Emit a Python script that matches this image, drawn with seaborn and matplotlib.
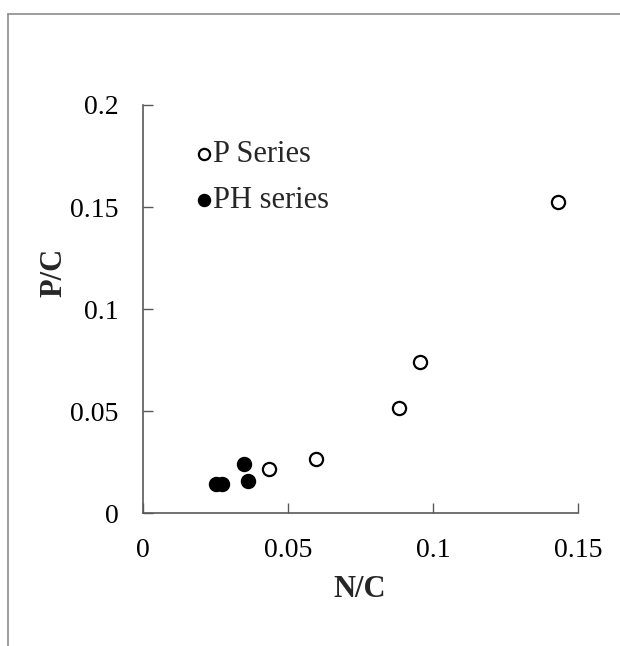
import matplotlib
matplotlib.use("Agg")
import matplotlib.pyplot as plt
import seaborn as sns
import pandas as pd
from matplotlib.lines import Line2D

# datos
p_nc = [0.0434, 0.0594, 0.0882, 0.0954, 0.1429]
p_pc = [0.0217, 0.0266, 0.0515, 0.0743, 0.1524]
ph_nc = [0.0252, 0.0270, 0.0347, 0.0361]
ph_pc = [0.0144, 0.0144, 0.0242, 0.0158]
series_names = ["P Series", "PH series"]

x_ticks = [0, 0.05, 0.1, 0.15]
x_labels = ["0", "0.05", "0.1", "0.15"]
y_ticks = [0, 0.05, 0.1, 0.15, 0.2]
y_labels = ["0", "0.05", "0.1", "0.15", "0.2"]

df_p = pd.DataFrame({"N/C": p_nc, "P/C": p_pc})
df_ph = pd.DataFrame({"N/C": ph_nc, "P/C": ph_pc})

sns.set_style("white")
plt.rcParams["font.family"] = ["Liberation Serif", "DejaVu Serif"]

fig = plt.figure(figsize=(6.2, 6.46), dpi=100)
ax = fig.add_axes([0.2311, 0.2054, 0.7016, 0.6321])

sns.scatterplot(data=df_p, x="N/C", y="P/C", ax=ax, marker="o", s=90,
                facecolor="white", edgecolor="black", linewidth=1.6,
                label=series_names[0])
sns.scatterplot(data=df_ph, x="N/C", y="P/C", ax=ax, marker="o", s=90,
                color="black", edgecolor="black", linewidth=1.6,
                label=series_names[1])

ax.set_xlim(0, 0.15)
ax.set_ylim(0, 0.2)
ax.set_xticks(x_ticks)
ax.set_xticklabels(x_labels)
ax.set_yticks(y_ticks)
ax.set_yticklabels(y_labels)
ax.tick_params(bottom=True, left=True, direction="in", length=7, width=1,
               color="#595959", labelsize=20, labelcolor="black")
ax.tick_params(axis="y", pad=18)
ax.tick_params(axis="x", pad=18)

sns.despine(ax=ax)
for side in ["left", "bottom"]:
    ax.spines[side].set_color("#595959")
    ax.spines[side].set_linewidth(1.2)

ax.set_xlabel("N/C", fontsize=22, fontweight="bold")
ax.set_ylabel("P/C", fontsize=22, fontweight="bold")
ax.xaxis.set_label_coords(0.498, -0.152)
ax.yaxis.set_label_coords(-0.173, 0.589)

leg = ax.legend(loc="center left", bbox_to_anchor=(0.126, 0.822), frameon=False,
                fontsize=22, handletextpad=0.1, handlelength=0.4,
                labelspacing=0.55, borderaxespad=0, borderpad=0,
                markerscale=0.85)

# borde del grafico (tipo Excel)
fig.add_artist(Line2D([8 / 620, 1], [1 - 14 / 646, 1 - 14 / 646],
                      color="#8c8c8c", lw=1.2))
fig.add_artist(Line2D([8 / 620, 8 / 620], [0, 1 - 14 / 646],
                      color="#8c8c8c", lw=1.2))

fig.savefig("out.png", dpi=100, facecolor="white")
plt.close()
